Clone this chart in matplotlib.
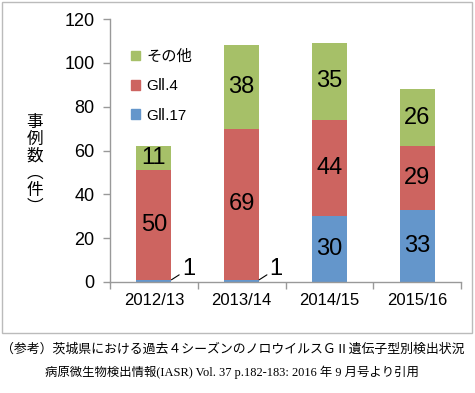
import matplotlib
matplotlib.use("Agg")
import matplotlib.pyplot as plt
from matplotlib.patches import Rectangle, Patch

seasons = ["2012/13", "2013/14", "2014/15", "2015/16"]
gii17 = [1, 1, 30, 33]
gii4 = [50, 69, 44, 29]
others = [11, 38, 35, 26]
series_names = ["GⅡ.17", "GⅡ.4", "その他"]
colors = ["#6496CB", "#CD6460", "#A6C068"]

FONT = ["Liberation Sans", "DejaVu Sans", "Noto Sans CJK JP"]
plt.rcParams["font.family"] = FONT

fig = plt.figure(figsize=(4.75, 3.93), dpi=100)
ax = fig.add_axes([110 / 475, 1 - 282 / 393, 351 / 475, 263 / 393])

# outer frame round the chart area
fig.patches.append(Rectangle((2 / 475, 1 - 333 / 393), 470 / 475, 331 / 393,
                             transform=fig.transFigure, fill=False,
                             edgecolor="#BBBBBB", linewidth=1.0))

x = range(len(seasons))
width = 0.4
bottom = [0] * len(seasons)
for vals, name, col in zip([gii17, gii4, others], series_names, colors):
    bars = ax.bar(x, vals, width, bottom=bottom, color=col, label=name)
    for i, (b, v) in enumerate(zip(bars, vals)):
        if v >= 5:
            ax.text(b.get_x() + b.get_width() / 2, bottom[i] + v / 2, str(v),
                    ha="center", va="center", fontsize=17, color="black")
        else:
            # small value: leader line to the right
            x0 = b.get_x() + b.get_width()
            ax.annotate(str(v), xy=(x0, bottom[i] + v), xytext=(x0 + 0.12, bottom[i] + 6),
                        fontsize=17, ha="left", va="center",
                        arrowprops=dict(arrowstyle="-", color="black", lw=0.8,
                                        shrinkA=0, shrinkB=0))
    bottom = [b0 + v for b0, v in zip(bottom, vals)]

ax.set_xlim(-0.5, len(seasons) - 0.5)
ax.set_ylim(0, 120)
ax.set_yticks(range(0, 121, 20))
ax.set_xticks(list(x))
ax.set_xticklabels(seasons, fontsize=12)
ax.set_xticks([i - 0.5 for i in range(len(seasons) + 1)], minor=True)
ax.tick_params(axis="x", which="major", length=0, pad=8)
ax.tick_params(axis="x", which="minor", length=5, color="#999999", width=1)
ax.tick_params(axis="y", labelsize=13, length=5, color="#999999", width=1, pad=6)

for side in ["top", "right"]:
    ax.spines[side].set_visible(False)
for side in ["left", "bottom"]:
    ax.spines[side].set_color("#999999")
    ax.spines[side].set_linewidth(1)

handles = [Patch(color=c) for c in colors][::-1]
leg = ax.legend(handles, series_names[::-1], loc="upper left",
                bbox_to_anchor=(0.02, 0.935), frameon=False, fontsize=11,
                handlelength=0.6, handleheight=0.6, handletextpad=0.4,
                labelspacing=1.0)

fig.text(35 / 475, 1 - 165 / 393, "事\n例\n数\n︵\n件\n︶", ha="center", va="center",
         fontsize=12, linespacing=1.0, family=["Noto Sans CJK JP", "DejaVu Sans"])

fig.text(0.49, 1 - 349 / 393,
         "（参考）茨城県における過去４シーズンのノロウイルスＧⅡ遺伝子型別検出状況",
         ha="center", va="center", fontsize=9.3,
         family=["Noto Sans CJK JP", "DejaVu Sans"])
fig.text(0.488, 1 - 372 / 393,
         "病原微生物検出情報(IASR) Vol. 37 p.182-183: 2016 年 9 月号より引用",
         ha="center", va="center", fontsize=8.9,
         family=["Liberation Serif", "Noto Sans CJK JP", "DejaVu Sans"])

fig.savefig("out.png", dpi=100)
